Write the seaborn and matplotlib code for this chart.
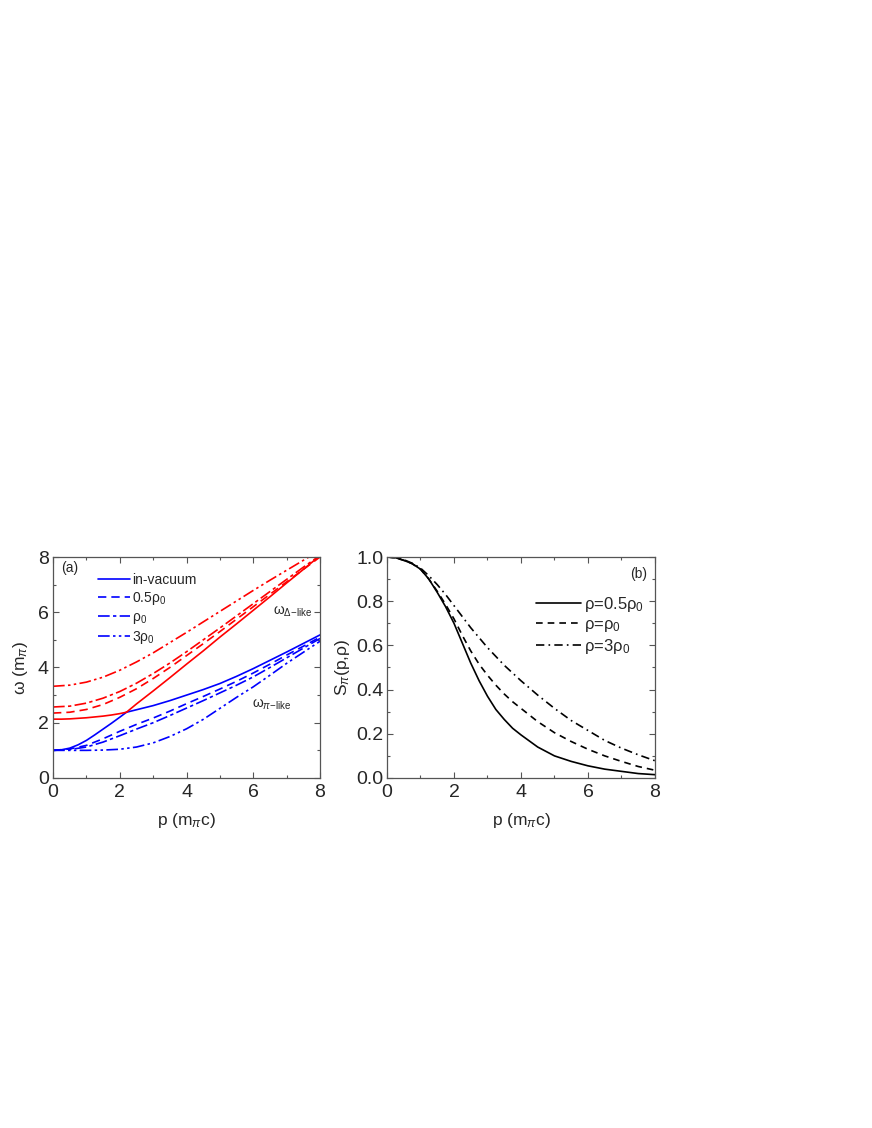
import numpy as np
import pandas as pd
import seaborn as sns
import matplotlib.pyplot as plt

# ---------------------------------------------------------
# Data
# ---------------------------------------------------------
p = [0, 0.5, 1, 1.5, 2, 2.5, 3, 3.5, 4, 4.5, 5, 5.5, 6, 6.5, 7, 7.5, 8]

# vacuum branches (kink at the level crossing p ~ 2.2)
p_vac_lo = [0, 0.25, 0.5, 0.75, 1, 1.25, 1.5, 1.75, 2, 2.2]
p_vac_hi = [2.2, 2.5, 3, 3.5, 4, 4.5, 5, 5.5, 6, 6.5, 7, 7.5, 8]
red_vac_lo = [2.13, 2.13, 2.14, 2.16, 2.18, 2.21, 2.24, 2.28, 2.33, 2.38]
red_vac_hi = [2.38, 2.68, 3.15, 3.63, 4.12, 4.6, 5.1, 5.58, 6.07, 6.56, 7.06, 7.55, 8.05]
blue_vac_lo = [1.0, 1.02, 1.08, 1.2, 1.36, 1.56, 1.77, 1.98, 2.2, 2.38]
blue_vac_hi = [2.38, 2.47, 2.62, 2.8, 3.0, 3.2, 3.42, 3.68, 3.96, 4.26, 4.56, 4.87, 5.18]

# Delta-like (upper) branches in medium
red_half = [2.35, 2.38, 2.48, 2.66, 2.92, 3.23, 3.6, 4.0, 4.43, 4.86, 5.3, 5.75, 6.2, 6.65, 7.1, 7.55, 8.0]
red_one = [2.57, 2.6, 2.71, 2.89, 3.13, 3.43, 3.78, 4.16, 4.57, 5.0, 5.43, 5.87, 6.31, 6.75, 7.19, 7.63, 8.06]
red_three = [3.32, 3.36, 3.47, 3.65, 3.9, 4.2, 4.53, 4.9, 5.27, 5.65, 6.03, 6.41, 6.79, 7.16, 7.52, 7.88, 8.24]

# pi-like (lower) branches in medium
blue_half = [1.0, 1.05, 1.18, 1.42, 1.69, 1.94, 2.17, 2.42, 2.69, 2.95, 3.22, 3.5, 3.8, 4.12, 4.45, 4.77, 5.1]
blue_one = [1.0, 1.03, 1.12, 1.3, 1.53, 1.77, 2.0, 2.26, 2.53, 2.8, 3.08, 3.36, 3.66, 4.0, 4.35, 4.7, 5.05]
blue_three = [1.0, 1.0, 1.0, 1.01, 1.04, 1.12, 1.27, 1.5, 1.78, 2.12, 2.52, 2.92, 3.3, 3.72, 4.15, 4.55, 4.95]

# spectral strength S_pi(p, rho)
p_s = [0, 0.25, 0.5, 0.75, 1, 1.25, 1.5, 1.75, 2, 2.25, 2.5, 2.75, 3, 3.25, 3.5, 3.75, 4,
       4.5, 5, 5.5, 6, 6.5, 7, 7.5, 8]
s_half = [1.0, 0.997, 0.985, 0.97, 0.945, 0.9, 0.84, 0.775, 0.7, 0.61, 0.52, 0.44, 0.37,
          0.31, 0.265, 0.225, 0.195, 0.14, 0.1, 0.075, 0.055, 0.04, 0.03, 0.02, 0.015]
s_one = [1.0, 0.997, 0.985, 0.97, 0.945, 0.9, 0.845, 0.785, 0.72, 0.645, 0.575, 0.515, 0.465,
         0.42, 0.38, 0.345, 0.315, 0.255, 0.205, 0.165, 0.13, 0.1, 0.075, 0.052, 0.035]
s_three = [1.0, 0.997, 0.988, 0.972, 0.95, 0.915, 0.875, 0.83, 0.78, 0.73, 0.68, 0.635, 0.59,
           0.55, 0.51, 0.475, 0.44, 0.375, 0.315, 0.26, 0.215, 0.17, 0.135, 0.105, 0.078]

# ---------------------------------------------------------
# Style
# ---------------------------------------------------------
sns.set_style('ticks')
plt.rcParams['font.family'] = ['Liberation Sans', 'DejaVu Sans']
plt.rcParams['mathtext.fontset'] = 'custom'
plt.rcParams['mathtext.rm'] = 'Liberation Sans'
plt.rcParams['mathtext.it'] = 'Liberation Sans:italic'
plt.rcParams['mathtext.sf'] = 'Liberation Sans'

DASH = (0, (5, 3))
DASHDOT = (0, (7, 2, 2, 2))
DASHDOTDOT = (0, (7, 2, 1.5, 2, 1.5, 2))
B_DASH = (0, (4, 3))
B_DASHDOT = (0, (5, 2.5, 1, 2.5))
LW = 1.2

fig = plt.figure(figsize=(8.72, 11.28), dpi=100)
ax1 = fig.add_axes([0.0608, 0.3103, 0.3062, 0.1959])
ax2 = fig.add_axes([0.4438, 0.3103, 0.3073, 0.1959])

# ---------------------------------------------------------
# Panel (a): dispersion relations
# ---------------------------------------------------------
blue, red = '#0000ff', '#ff0000'
sns.lineplot(x=p_vac_lo, y=blue_vac_lo, ax=ax1, color=blue, lw=LW, label='in-vacuum', sort=False)
sns.lineplot(x=p_vac_hi, y=blue_vac_hi, ax=ax1, color=blue, lw=LW, sort=False)
sns.lineplot(x=p, y=blue_half, ax=ax1, color=blue, lw=LW, ls=DASH, label='0.5ρ$_0$', sort=False)
sns.lineplot(x=p, y=blue_one, ax=ax1, color=blue, lw=LW, ls=DASHDOT, label='ρ$_0$', sort=False)
sns.lineplot(x=p, y=blue_three, ax=ax1, color=blue, lw=LW, ls=DASHDOTDOT, label='3ρ$_0$', sort=False)
sns.lineplot(x=p_vac_lo, y=red_vac_lo, ax=ax1, color=red, lw=LW, sort=False)
sns.lineplot(x=p_vac_hi, y=red_vac_hi, ax=ax1, color=red, lw=LW, sort=False)
sns.lineplot(x=p, y=red_half, ax=ax1, color=red, lw=LW, ls=DASH, sort=False)
sns.lineplot(x=p, y=red_one, ax=ax1, color=red, lw=LW, ls=DASHDOT, sort=False)
sns.lineplot(x=p, y=red_three, ax=ax1, color=red, lw=LW, ls=DASHDOTDOT, sort=False)

ax1.set_xlim(0, 8)
ax1.set_ylim(0, 8)
ax1.set_xticks([0, 2, 4, 6, 8])
ax1.set_xticks([1, 3, 5, 7], minor=True)
ax1.set_yticks([0, 2, 4, 6, 8])
ax1.set_yticks([1, 3, 5, 7], minor=True)
ax1.set_xlabel('p (m$_π$c)', fontsize=12.5, labelpad=7)
ax1.set_ylabel('ω (m$_π$)', fontsize=12.5, labelpad=6)
ax1.text(0.25, 7.45, '(a)', fontsize=10)
ax1.text(6.6, 5.9, r'ω$_{\Delta\mathrm{-like}}$', fontsize=10)
ax1.text(5.95, 2.55, r'ω$_{π\mathrm{-like}}$', fontsize=10)
ax1.legend(loc='upper left', bbox_to_anchor=(0.148, 0.955), frameon=False,
           fontsize=10, handlelength=2.3, handletextpad=0.15, labelspacing=0.22,
           borderaxespad=0)

# ---------------------------------------------------------
# Panel (b): spectral strength
# ---------------------------------------------------------
sns.lineplot(x=p_s, y=s_half, ax=ax2, color='black', lw=LW, label='ρ=0.5ρ$_0$', sort=False)
sns.lineplot(x=p_s, y=s_one, ax=ax2, color='black', lw=LW, ls=B_DASH, label='ρ=ρ$_0$', sort=False)
sns.lineplot(x=p_s, y=s_three, ax=ax2, color='black', lw=LW, ls=B_DASHDOT, label='ρ=3ρ$_0$', sort=False)

ax2.set_xlim(0, 8)
ax2.set_ylim(0, 1.0)
ax2.set_xticks([0, 2, 4, 6, 8])
ax2.set_xticks([1, 3, 5, 7], minor=True)
ax2.set_yticks([0.0, 0.2, 0.4, 0.6, 0.8, 1.0])
ax2.set_yticks([0.1, 0.3, 0.5, 0.7, 0.9], minor=True)
ax2.set_yticklabels(['0.0', '0.2', '0.4', '0.6', '0.8', '1.0'])
ax2.set_xlabel('p (m$_π$c)', fontsize=12.5, labelpad=7)
ax2.set_ylabel('S$_π$(p,ρ)', fontsize=12.5, labelpad=3)
ax2.text(7.25, 0.905, '(b)', fontsize=10)
ax2.legend(loc='upper right', bbox_to_anchor=(0.985, 0.86), frameon=False,
           fontsize=12, handlelength=2.7, handletextpad=0.2, labelspacing=0.18,
           borderaxespad=0)

for ax in (ax1, ax2):
    ax.tick_params(which='both', direction='in', top=True, right=True, labelsize=14,
                   color='#555555', width=0.8)
    ax.tick_params(which='major', length=4)
    ax.tick_params(which='minor', length=2.5)
    ax.tick_params(axis='x', pad=4.5)
    ax.tick_params(axis='y', pad=3)
    for s in ax.spines.values():
        s.set_color('#555555')
        s.set_linewidth(0.9)
ax2.tick_params(axis='y', pad=2.5)

plt.savefig('out.png', dpi=100)
